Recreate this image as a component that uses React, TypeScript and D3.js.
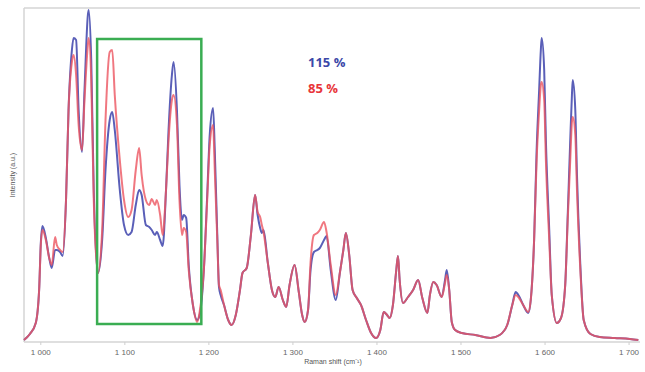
import React from "react";
import * as d3 from "d3";

// Raman shift (cm⁻¹) sample positions shared by both spectra
const shift = [
  980, 987, 994, 998, 1000, 1002, 1006, 1010, 1013, 1017, 1019, 1023, 1026, 1030, 1033, 1037, 1039, 1042, 1045, 1049,
  1052, 1056, 1057, 1060, 1063, 1068, 1073, 1077, 1082, 1085, 1088, 1094, 1099, 1104, 1108, 1113, 1117, 1120, 1125, 1129,
  1132, 1136, 1138, 1142, 1145, 1149, 1152, 1156, 1158, 1162, 1165, 1168, 1170, 1173, 1176, 1181, 1186, 1189, 1194, 1198,
  1201, 1205, 1207, 1210, 1212, 1214, 1218, 1223, 1227, 1232, 1237, 1240, 1245, 1250, 1255, 1258, 1261, 1263, 1265, 1270,
  1275, 1279, 1283, 1288, 1292, 1296, 1302, 1307, 1311, 1314, 1318, 1321, 1325, 1329, 1332, 1337, 1340, 1345, 1351, 1356,
  1360, 1363, 1367, 1371, 1376, 1381, 1387, 1393, 1399, 1404, 1408, 1412, 1415, 1419, 1423, 1425, 1427, 1431, 1437, 1443,
  1449, 1454, 1460, 1463, 1467, 1471, 1477, 1481, 1483, 1486, 1489, 1493, 1501, 1517, 1535, 1546, 1555, 1561, 1565, 1569,
  1574, 1580, 1583, 1587, 1590, 1593, 1595, 1596, 1599, 1601, 1605, 1608, 1614, 1619, 1624, 1627, 1630, 1632, 1633, 1636,
  1638, 1642, 1646, 1654, 1665, 1683, 1701, 1711,
];

// Intensity (a.u.) at 85 % laser power
const intensity85 = [
  2, 8, 19, 52, 97, 112, 102, 84, 77, 105, 97, 92, 90, 142, 232, 280, 287, 267, 217, 192,
  242, 297, 304, 262, 142, 69, 112, 222, 290, 292, 247, 182, 142, 125, 132, 172, 194, 167, 142, 137,
  143, 137, 142, 127, 107, 152, 202, 242, 247, 217, 142, 107, 114, 110, 72, 37, 20, 30, 72, 142,
  197, 217, 172, 102, 57, 52, 37, 22, 17, 27, 52, 69, 74, 107, 147, 130, 125, 117, 110, 80,
  52, 45, 55, 42, 35, 57, 77, 50, 27, 20, 32, 80, 107, 109, 112, 120, 110, 77, 47, 70,
  92, 109, 87, 52, 44, 37, 22, 9, 4, 12, 30, 27, 24, 37, 72, 86, 62, 39, 45, 52,
  62, 44, 29, 47, 60, 57, 45, 59, 67, 52, 20, 12, 9, 7, 4, 7, 17, 37, 47, 44,
  37, 30, 42, 102, 182, 232, 257, 260, 242, 182, 102, 47, 19, 24, 57, 122, 182, 220, 225, 207,
  152, 72, 22, 8, 5, 4, 3, 2,
];

// Intensity (a.u.) at 115 % laser power
const intensity115 = [
  2, 8, 19, 52, 99, 116, 104, 84, 74, 92, 92, 90, 86, 142, 232, 292, 304, 302, 232, 190,
  252, 327, 332, 282, 152, 69, 102, 172, 222, 230, 212, 152, 117, 107, 110, 137, 152, 147, 117, 115,
  112, 107, 110, 102, 96, 152, 212, 267, 280, 232, 157, 122, 127, 124, 77, 37, 22, 27, 72, 147,
  207, 234, 192, 107, 55, 47, 37, 22, 17, 27, 52, 69, 74, 107, 147, 127, 114, 109, 112, 80,
  52, 45, 55, 42, 35, 57, 77, 50, 27, 20, 32, 72, 90, 92, 94, 102, 106, 72, 42, 70,
  92, 109, 87, 52, 44, 37, 22, 9, 4, 12, 30, 27, 24, 37, 72, 86, 62, 39, 45, 52,
  62, 44, 29, 47, 60, 57, 45, 62, 72, 52, 20, 12, 9, 7, 4, 7, 17, 37, 50, 46,
  37, 29, 42, 102, 192, 252, 292, 304, 272, 202, 112, 47, 19, 24, 57, 127, 202, 247, 262, 232,
  167, 77, 22, 8, 5, 4, 3, 2,
];

const xTicks = [1000, 1100, 1200, 1300, 1400, 1500, 1600, 1700];
const xTickLabels = ["1 000", "1 100", "1 200", "1 300", "1 400", "1 500", "1 600", "1 700"];

const seriesLabels = ["115 %", "85 %"];

// Highlighted region of the spectrum
const boxShift = [1067, 1191];
const boxIntensity = [18, 303];

const W = 645;
const H = 372;
const M = { left: 24, right: 5, top: 8, bottom: 30 };

export default function App() {
  const x = d3.scaleLinear().domain([980, 1713]).range([M.left, W - M.right]);
  const y = d3.scaleLinear().domain([0, 334]).range([H - M.bottom, M.top]);

  const line = (vals: number[]) =>
    d3
      .line<number>()
      .x((_, i) => x(shift[i]))
      .y((v) => y(v))
      .curve(d3.curveMonotoneX)(vals) as string;

  const baseY = H - M.bottom;

  return (
    <svg
      width={W}
      height={H}
      style={{ position: "absolute", left: 0, top: 0, background: "#fff" }}
      fontFamily="'Liberation Sans', Arial, sans-serif"
    >
      {/* frame */}
      <line x1={M.left} x2={W - M.right} y1={M.top} y2={M.top} stroke="#d4d4d4" strokeWidth={1.5} />
      <line x1={M.left} x2={M.left} y1={M.top} y2={baseY} stroke="#d4d4d4" strokeWidth={1.5} />
      <line x1={M.left} x2={W - M.right} y1={baseY} y2={baseY} stroke="#d4d4d4" strokeWidth={1.5} />

      {xTicks.map((t, i) => (
        <g key={t}>
          <line x1={x(t)} x2={x(t)} y1={baseY} y2={baseY + 3} stroke="#cfcfcf" />
          <text x={x(t)} y={baseY + 13} fontSize={8} fill="#666" textAnchor="middle">
            {xTickLabels[i]}
          </text>
        </g>
      ))}

      <text x={(x(1300) + x(1400)) / 2 - 2} y={H - 8} fontSize={7} fill="#555" textAnchor="middle">
        Raman shift (cm⁻¹)
      </text>
      <text
        transform={`translate(15,${(M.top + baseY) / 2}) rotate(-90)`}
        fontSize={7}
        fill="#555"
        textAnchor="middle"
      >
        Intensity (a.u.)
      </text>

      {/* spectra */}
      <path d={line(intensity115)} fill="none" stroke="#5a5fb8" strokeWidth={2} strokeLinejoin="round" />
      <path
        d={line(intensity85)}
        fill="none"
        stroke="#ec5560"
        strokeOpacity={0.8}
        strokeWidth={2}
        strokeLinejoin="round"
      />

      <rect
        x={x(boxShift[0])}
        y={y(boxIntensity[1])}
        width={x(boxShift[1]) - x(boxShift[0])}
        height={y(boxIntensity[0]) - y(boxIntensity[1])}
        fill="none"
        stroke="#3aad52"
        strokeWidth={2.5}
      />

      <text x={308} y={67} fontSize={13} fontWeight="bold" fill="#3c48a8" fontFamily="'Open Sans', sans-serif">
        {seriesLabels[0]}
      </text>
      <text x={308} y={93} fontSize={13} fontWeight="bold" fill="#e8353a" fontFamily="'Open Sans', sans-serif">
        {seriesLabels[1]}
      </text>
    </svg>
  );
}
